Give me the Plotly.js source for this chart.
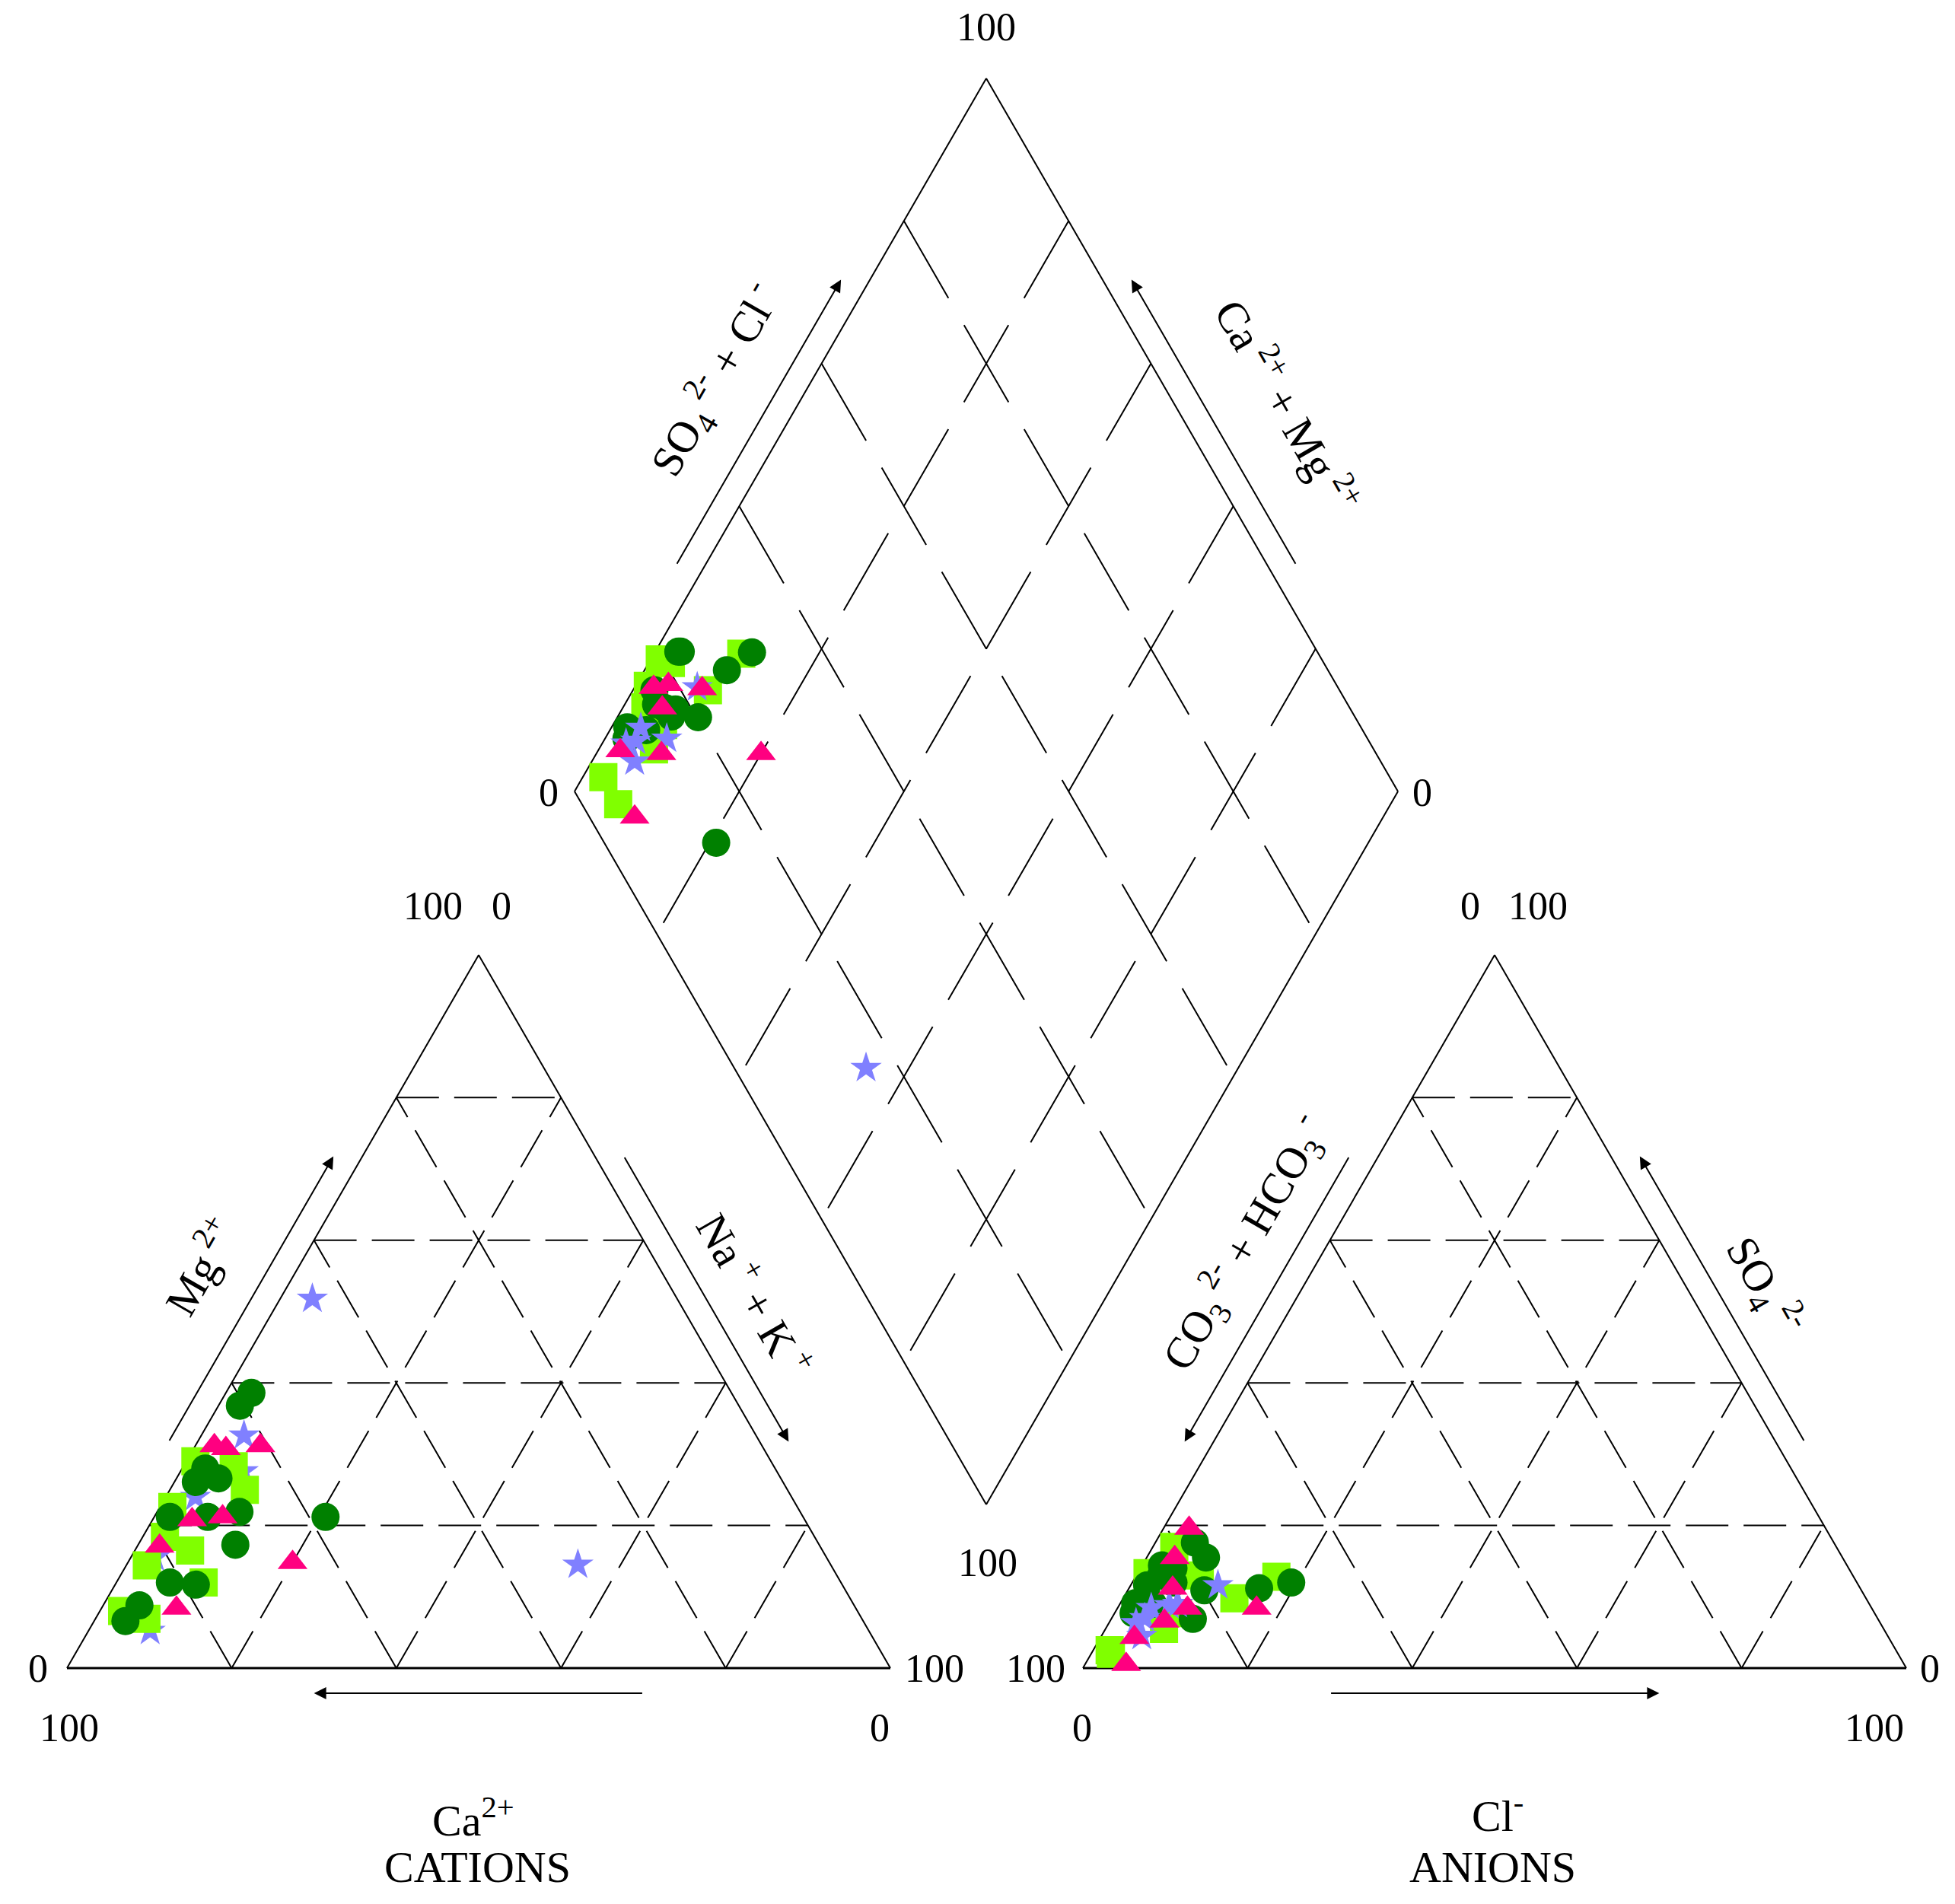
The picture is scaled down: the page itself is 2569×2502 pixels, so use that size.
<!DOCTYPE html>
<html><head><meta charset="utf-8">
<script src="https://cdn.plot.ly/plotly-3.0.1.min.js"></script>
<style>html,body{margin:0;padding:0;background:#fff;overflow:hidden;} #chart{width:2569px;height:2502px;}</style>
</head><body><div id="chart"></div>
<script>
// ---------- DATA (percent of meq) ----------
// Cations: Mg2+, Na+ + K+  (Ca2+ = 100 - Mg - NaK)
// Anions : SO4 2-, Cl-     (CO3 2- + HCO3- = 100 - SO4 - Cl)
const circleMg  = [38.6, 36.8, 28.0, 26.6, 26.1, 21.2, 21.2, 21.9, 21.2, 17.3, 12.0, 11.7, 8.8, 6.6];
const circleNaK = [3.1, 2.6, 2.8, 5.1, 2.6, 1.9, 6.5, 10.0, 20.8, 11.8, 6.5, 9.8, 4.4, 3.8];
const circleSO4 = [15.5, 14.4, 17.6, 6.9, 7.7, 9.1, 14.0, 11.2, 11.6, 12.0, 12.0, 10.9, 9.0, 13.0];
const circleCl  = [7.2, 2.4, 4.8, 9.9, 2.3, 1.8, 4.0, 15.8, 2.0, 19.3, 5.0, 9.3, 4.0, 3.0];

const squareMg  = [25.0, 12.0, 6.9, 14.4, 16.5, 28.3, 22.6, 18.4, 29.0, 8.0];
const squareNaK = [9.1, 10.6, 6.2, 2.5, 6.7, 6.1, 1.5, 2.7, 1.1, 2.7];
const squareSO4 = [9.8, 12.8, 2.0, 2.5, 5.5, 7.7, 13.3, 13.3, 17.0, 13.0];
const squareCl  = [13.5, 17.1, 2.4, 2.0, 7.1, 7.7, 3.0, 1.2, 2.6, 7.7];

const triMg  = [14.8, 8.4, 31.2, 30.8, 20.8, 17.1, 21.2, 31.2];
const triNaK = [20.0, 9.1, 7.9, 3.9, 4.8, 2.7, 8.3, 2.3];
const triSO4 = [8.4, 0.5, 6.6, 15.5, 11.2, 4.3, 19.6, 8.4];
const triCl  = [16.9, 5.0, 6.6, 3.4, 5.3, 4.1, 3.1, 8.5];

const starMg  = [14.5, 27.6, 24.0, 15.5, 32.6, 5.2, 51.8];
const starNaK = [54.8, 7.6, 3.6, 2.9, 5.2, 7.5, 3.9];
const starSO4 = [9.0, 11.6, 8.4, 6.3, 4.5, 8.8, 7.0];
const starCl  = [7.0, 10.6, 4.1, 3.3, 4.9, 6.1, 4.0];

const gridTicks = [20, 40, 60, 80];

// ---------- GEOMETRY (page layout) ----------
const S = 1082, HT = S * Math.sqrt(3) / 2;
const CAT = {x: 88, y: 2192};
const AN  = {x: 1423, y: 2192};
const DB  = {x: 1296, y: 1977};

function catXY(mg, nak) { return [CAT.x + S * (nak + mg / 2) / 100, CAT.y - HT * mg / 100]; }
function anXY(so4, cl)  { return [AN.x + S * (cl + so4 / 2) / 100, AN.y - HT * so4 / 100]; }
function diaAB(a, b)    { return [DB.x + S / 2 * (a - b) / 100, DB.y - HT * (a + b) / 100]; }
function diaXY(nak, so4, cl) { return diaAB(so4 + cl, 100 - nak); }

const traces = [];
function seg(p, q, dash, width) {
  traces.push({type: 'scatter', mode: 'lines', x: [p[0], q[0]], y: [p[1], q[1]],
    line: {color: '#000', width: width || 2, dash: dash || 'solid'}, hoverinfo: 'skip', showlegend: false});
}
const TRI_DASH = '56px,20px';
const DIA_DASH = '117px,41px';

// Cation triangle
seg(catXY(0, 0), catXY(0, 100), 'solid', 3);
seg(catXY(0, 0), catXY(100, 0), 'solid', 2);
seg(catXY(100, 0), catXY(0, 100), 'solid', 2);
gridTicks.forEach(k => {
  seg(catXY(k, 0), catXY(k, 100 - k), TRI_DASH);
  seg(catXY(0, k), catXY(100 - k, k), TRI_DASH);
  seg(catXY(0, 100 - k), catXY(100 - k, 0), TRI_DASH);
});
// Anion triangle
seg(anXY(0, 0), anXY(0, 100), 'solid', 3);
seg(anXY(0, 0), anXY(100, 0), 'solid', 2);
seg(anXY(100, 0), anXY(0, 100), 'solid', 2);
gridTicks.forEach(k => {
  seg(anXY(k, 0), anXY(k, 100 - k), TRI_DASH);
  seg(anXY(0, k), anXY(100 - k, k), TRI_DASH);
  seg(anXY(0, 100 - k), anXY(100 - k, 0), TRI_DASH);
});
// Diamond
seg(diaAB(0, 0), diaAB(100, 0), 'solid', 2);
seg(diaAB(0, 0), diaAB(0, 100), 'solid', 2);
seg(diaAB(100, 0), diaAB(100, 100), 'solid', 2);
seg(diaAB(0, 100), diaAB(100, 100), 'solid', 2);
gridTicks.forEach(k => {
  seg(diaAB(k, 100), diaAB(k, 0), DIA_DASH);
  seg(diaAB(100, k), diaAB(0, k), DIA_DASH);
});

// ---------- SAMPLE MARKERS ----------
function panelTrace(xs, ys, symbol, color, size, name) {
  traces.push({type: 'scatter', mode: 'markers', x: xs, y: ys, name: name,
    marker: {symbol: symbol, color: color, size: size, line: {width: 0}},
    hoverinfo: 'skip', showlegend: false});
}
const groups = [
  {mg: starMg, nak: starNaK, so4: starSO4, cl: starCl, symbol: 'star', color: '#8080FF', size: 31, name: 'Group D'},
  {mg: squareMg, nak: squareNaK, so4: squareSO4, cl: squareCl, symbol: 'square', color: '#80FF00', size: 37, name: 'Group B'},
  {mg: circleMg, nak: circleNaK, so4: circleSO4, cl: circleCl, symbol: 'circle', color: '#008000', size: 37, name: 'Group A'},
  {mg: triMg, nak: triNaK, so4: triSO4, cl: triCl, symbol: 'triangle-up', color: '#FF0080', size: 34, name: 'Group C'}
];
// cation panel: stars underneath
groups.forEach(g => {
  const pts = g.mg.map((m, i) => catXY(m, g.nak[i]));
  panelTrace(pts.map(p => p[0]), pts.map(p => p[1]), g.symbol, g.color, g.size, g.name);
});
// anion + diamond panels: squares, circles, stars, triangles
[1, 2, 0, 3].forEach(j => {
  const g = groups[j];
  const pa = g.so4.map((s, i) => anXY(s, g.cl[i]));
  const pd = g.mg.map((m, i) => diaXY(g.nak[i], g.so4[i], g.cl[i]));
  const all = pa.concat(pd);
  panelTrace(all.map(p => p[0]), all.map(p => p[1]), g.symbol, g.color, g.size, g.name);
});

// ---------- TEXT & ARROWS ----------
const FONT = 'Liberation Serif, Times New Roman, serif';
const ann = [];
function txt(x, y, text, size, angle, xa, ya) {
  ann.push({x: x, y: y, xref: 'x', yref: 'y', text: text, showarrow: false,
    textangle: angle || 0, xanchor: xa || 'center', yanchor: ya || 'middle',
    font: {family: FONT, size: size || 52, color: '#000'}});
}
function arrow(from, to) {
  ann.push({x: to[0], y: to[1], ax: from[0], ay: from[1], xref: 'x', yref: 'y', axref: 'x', ayref: 'y',
    text: '', showarrow: true, arrowhead: 2, arrowsize: 1.6, arrowwidth: 2, arrowcolor: '#000', standoff: 0, startstandoff: 0});
}
function off(p, nx, ny, d) { return [p[0] + nx * d, p[1] + ny * d]; }
const OFF = 33, C = Math.sqrt(3) / 2;

// Cation arrows
arrow(off(catXY(30, 0), -C, -0.5, OFF), off(catXY(70, 0), -C, -0.5, OFF));
arrow(off(catXY(70, 30), C, -0.5, OFF), off(catXY(30, 70), C, -0.5, OFF));
arrow(off(catXY(0, 70), 0, 1, OFF), off(catXY(0, 30), 0, 1, OFF));
// Anion arrows
arrow(off(anXY(70, 0), -C, -0.5, OFF), off(anXY(30, 0), -C, -0.5, OFF));
arrow(off(anXY(30, 70), C, -0.5, OFF), off(anXY(70, 30), C, -0.5, OFF));
arrow(off(anXY(0, 30), 0, 1, OFF), off(anXY(0, 70), 0, 1, OFF));
// Diamond arrows
arrow(off(diaAB(30, 100), -C, -0.5, OFF), off(diaAB(70, 100), -C, -0.5, OFF));
arrow(off(diaAB(100, 30), C, -0.5, OFF), off(diaAB(100, 70), C, -0.5, OFF));

// Cation numbers
txt(CAT.x - 38, CAT.y, '0');
txt(CAT.x + 3, CAT.y + 78, '100');
txt(CAT.x + S / 2 - 60, CAT.y - HT - 64, '100');
txt(CAT.x + S / 2 + 30, CAT.y - HT - 64, '0');
txt(CAT.x + S + 58, CAT.y, '100');
txt(CAT.x + S - 14, CAT.y + 78, '0');
// Anion numbers
txt(AN.x - 62, AN.y, '100');
txt(AN.x - 1, AN.y + 78, '0');
txt(AN.x + S / 2 - 32, AN.y - HT - 64, '0');
txt(AN.x + S / 2 + 57, AN.y - HT - 64, '100');
txt(AN.x + S + 31, AN.y, '0');
txt(AN.x + S - 42, AN.y + 78, '100');
// Diamond numbers
txt(DB.x, DB.y - 2 * HT - 67, '100');
txt(DB.x - S / 2 - 34, DB.y - HT + 2, '0');
txt(DB.x + S / 2 + 32, DB.y - HT + 2, '0');
txt(DB.x + 2, DB.y + 76, '100');

// Axis labels
txt(622, 2388, 'Ca<sup>2+</sup>', 58);
txt(627, 2453, 'CATIONS', 58);
txt(1968, 2382, 'Cl<sup>-</sup>', 58);
txt(1961, 2453, 'ANIONS', 58);
txt(262, 1663, 'Mg<sup> 2+</sup>', 58, -60);
txt(993, 1700, 'Na<sup> +</sup> + K<sup> +</sup>', 58, 60);
txt(1636, 1634, 'CO<sub>3</sub><sup> 2-</sup> + HCO<sub>3</sub><sup> -</sup>', 58, -60);
txt(2318, 1690, 'SO<sub>4</sub><sup> 2-</sup>', 58, 60);
txt(940, 500, 'SO<sub>4</sub><sup> 2-</sup> + Cl<sup> -</sup>', 58, -60);
txt(1693, 532, 'Ca<sup> 2+</sup> + Mg<sup> 2+</sup>', 58, 60);

const layout = {
  width: 2569, height: 2502, margin: {l: 0, r: 0, t: 0, b: 0, pad: 0},
  paper_bgcolor: '#ffffff', plot_bgcolor: '#ffffff', showlegend: false,
  xaxis: {range: [0, 2569], visible: false, fixedrange: true},
  yaxis: {range: [2502, 0], visible: false, fixedrange: true},
  annotations: ann
};
Plotly.newPlot('chart', traces, layout, {staticPlot: true, displayModeBar: false});
</script>
</body></html>
